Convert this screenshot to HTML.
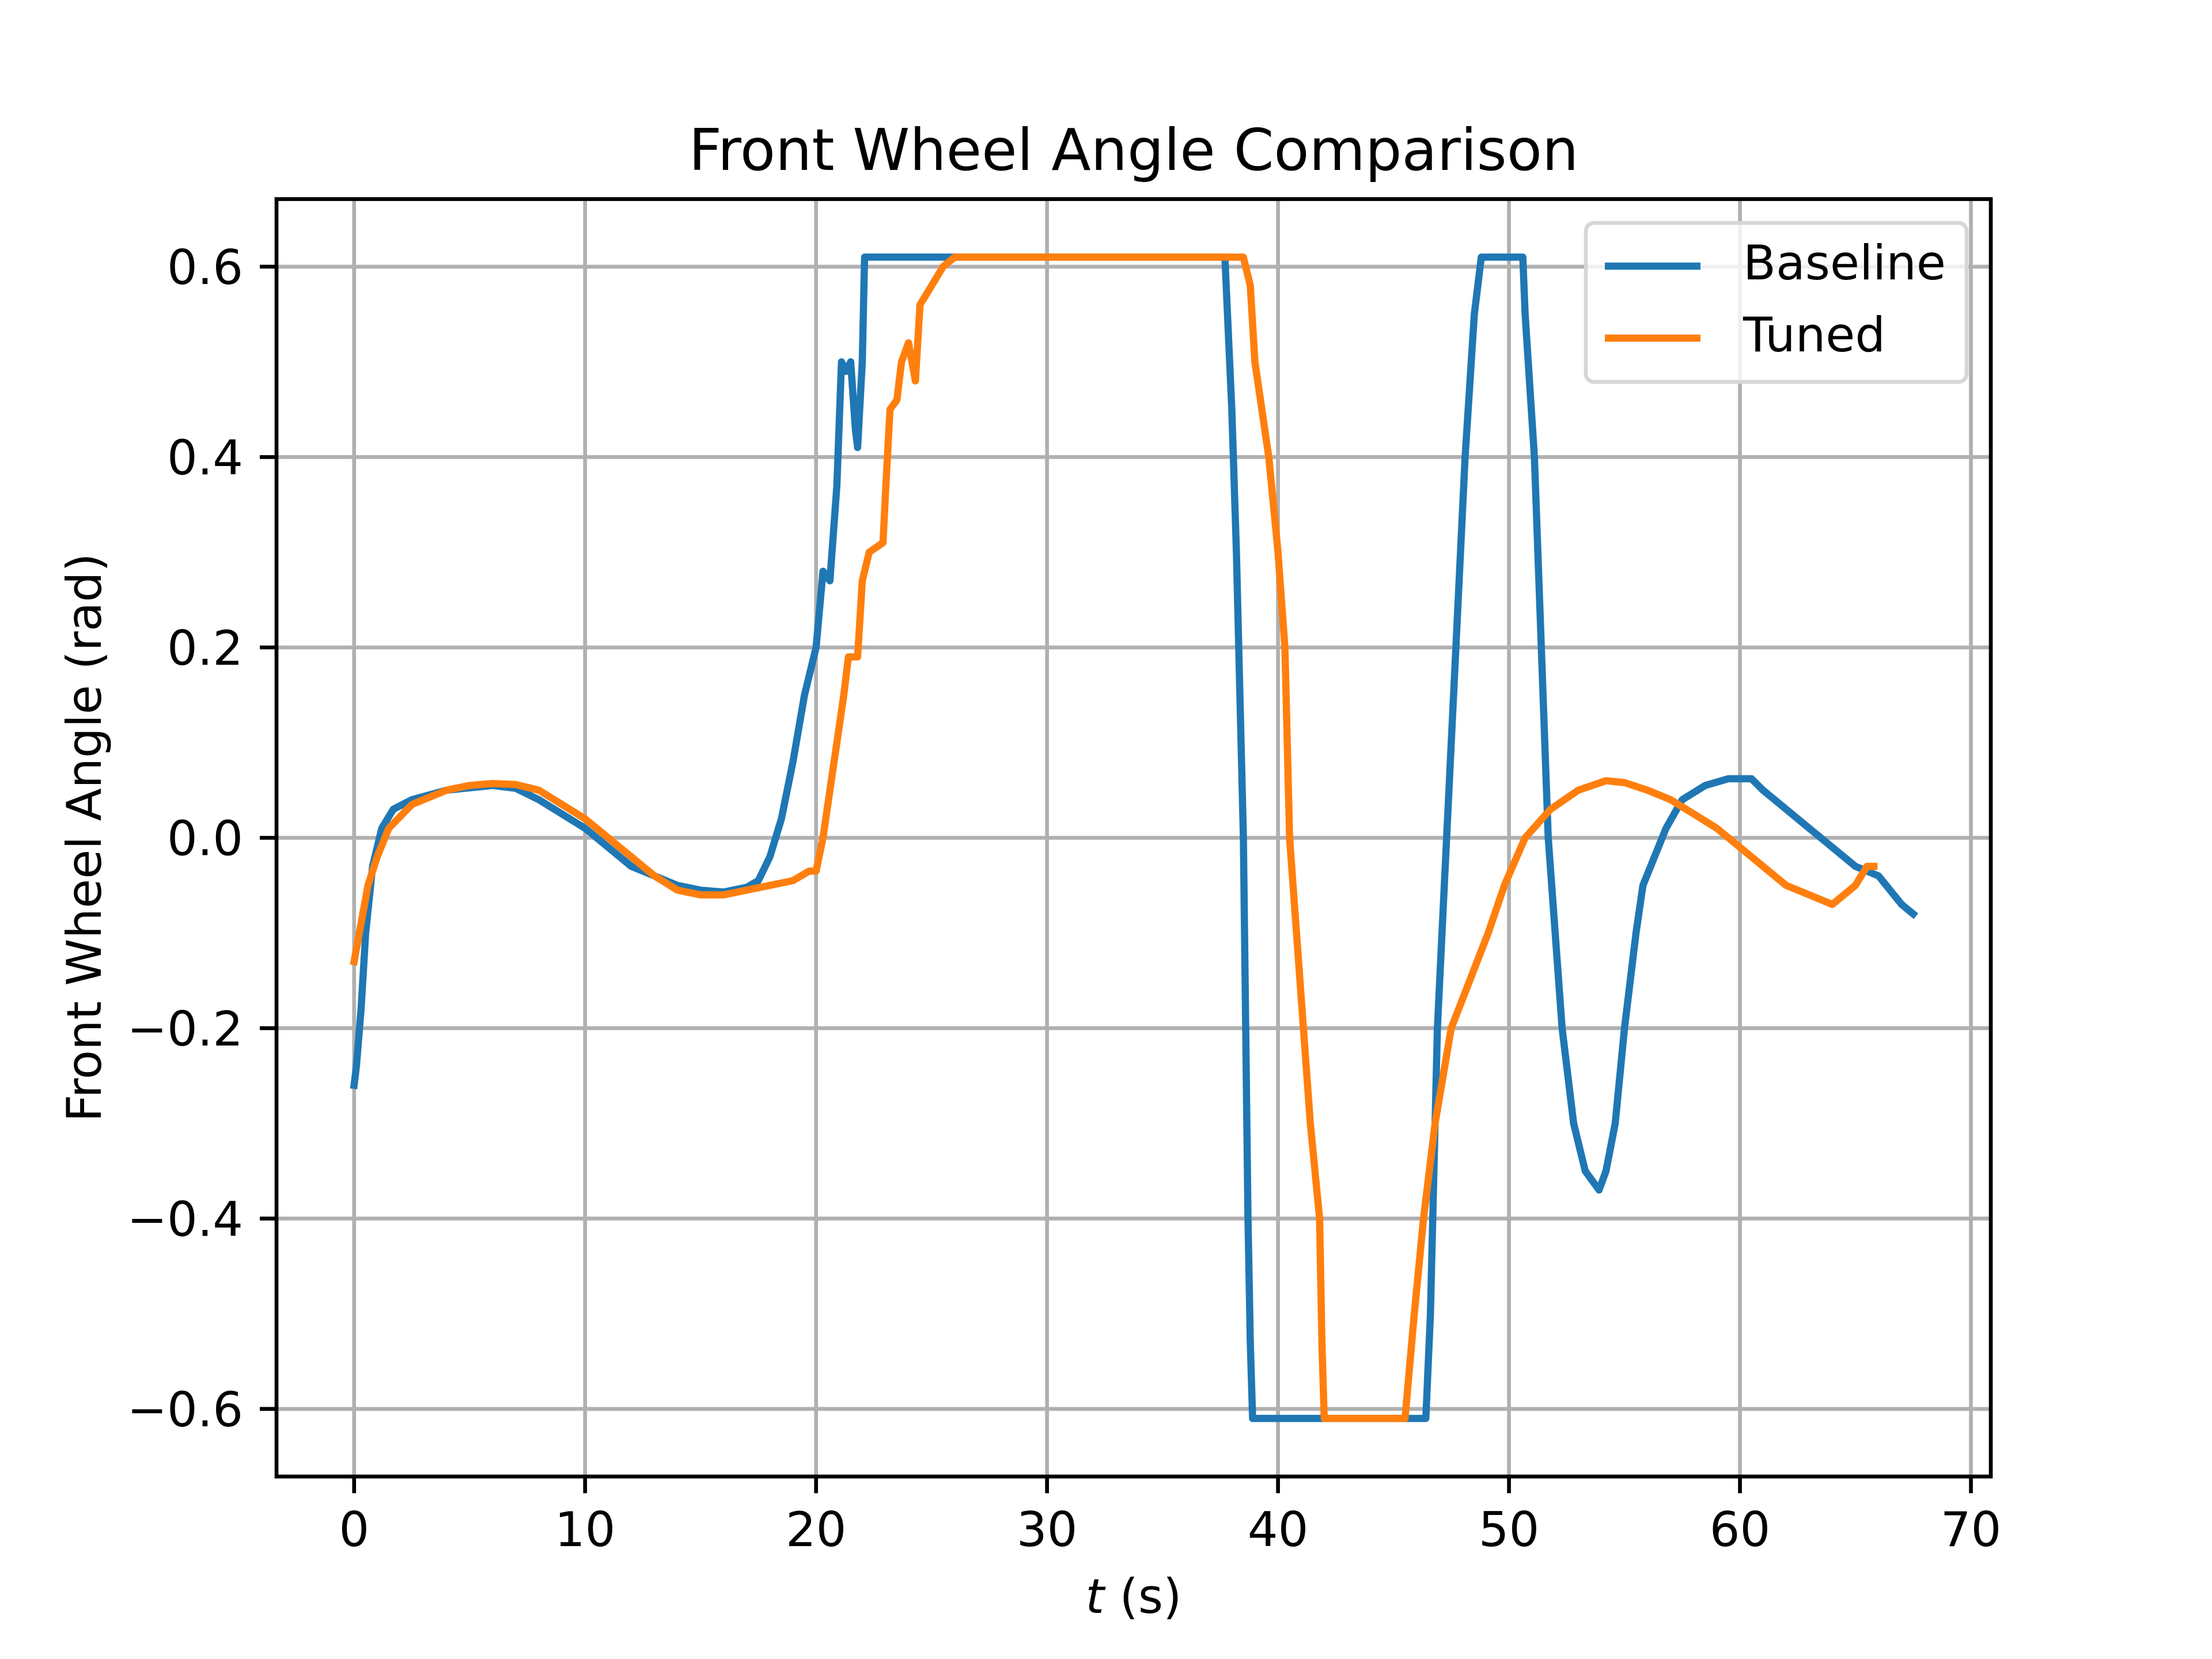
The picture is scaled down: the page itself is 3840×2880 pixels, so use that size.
<!DOCTYPE html>
<html><head><meta charset="utf-8"><style>html,body{margin:0;padding:0;background:#fff}svg{display:block}</style></head>
<body>
<svg id="chart" width="3840" height="2880" viewBox="0 0 3840 2880" xmlns="http://www.w3.org/2000/svg" font-family="'DejaVu Sans','Liberation Sans',sans-serif">
<rect width="3840" height="2880" fill="#fff"/>
<g id="grid"></g>
<g id="series"></g>
<rect x="480" y="345.6" width="2976" height="2217.6" fill="none" stroke="#000" stroke-width="6.67"/>
<g id="ticks"></g>
<text x="1968" y="295" font-size="100" text-anchor="middle">Front Wheel Angle Comparison</text>
<text x="1968" y="2800" font-size="83" text-anchor="middle"><tspan font-style="italic">t</tspan> (s)</text>
<text transform="translate(175,1454) rotate(-90)" font-size="83" text-anchor="middle">Front Wheel Angle (rad)</text>
<g>
<rect x="2753" y="387" width="661" height="276" rx="14" fill="#fff" fill-opacity="0.8" stroke="#d6d6d6" stroke-width="6.67"/>
<line x1="2786" y1="462" x2="2952" y2="462" stroke="#1f77b4" stroke-width="12.5"/>
<text x="3026" y="485" font-size="83">Baseline</text>
<line x1="2786" y1="587" x2="2952" y2="587" stroke="#ff7f0e" stroke-width="12.5"/>
<text x="3026" y="610" font-size="83">Tuned</text>
</g>
</svg>
<script>
const xTicks=[0,10,20,30,40,50,60,70];
const yTicks=[-0.6,-0.4,-0.2,0.0,0.2,0.4,0.6];
const yTickLabels=["\u22120.6","\u22120.4","\u22120.2","0.0","0.2","0.4","0.6"];
const baselineT=[0,0.1,0.3,0.5,0.8,1.2,1.7,2.5,4,6,7,8,9,10,11,12,13,14,15,16,17,17.5,18,18.5,19,19.5,20,20.3,20.6,20.9,21.1,21.3,21.5,21.7,21.8,22,22.1,37.7,38,38.2,38.5,38.6,38.7,38.8,38.9,46.4,46.6,46.9,47.3,47.7,48.1,48.5,48.8,50.6,50.7,51.1,51.4,51.7,52.3,52.8,53.3,53.9,54.2,54.6,55,55.5,55.8,56.3,56.8,57.5,58.5,59.5,60.5,61,62,63,64,65,66,67,67.5];
const baselineV=[-0.26,-0.24,-0.18,-0.1,-0.03,0.01,0.03,0.04,0.05,0.055,0.052,0.04,0.025,0.01,-0.01,-0.03,-0.04,-0.05,-0.055,-0.057,-0.052,-0.045,-0.02,0.02,0.08,0.15,0.2,0.28,0.27,0.37,0.5,0.49,0.5,0.43,0.41,0.5,0.61,0.61,0.45,0.3,0.0,-0.2,-0.4,-0.53,-0.61,-0.61,-0.5,-0.2,0.0,0.2,0.4,0.55,0.61,0.61,0.55,0.4,0.2,0.0,-0.2,-0.3,-0.35,-0.37,-0.35,-0.3,-0.2,-0.1,-0.05,-0.02,0.01,0.04,0.055,0.062,0.062,0.05,0.03,0.01,-0.01,-0.03,-0.04,-0.07,-0.08];
const tunedT=[0,0.3,0.6,1,1.5,2.5,4,5,6,7,8,9,10,11,12,13,14,15,16,17,18,19,19.7,20,20.3,20.6,20.9,21.2,21.4,21.8,22,22.3,22.9,23.0,23.2,23.5,23.7,24,24.3,24.5,25,25.5,26,38.5,38.8,39,39.6,40,40.3,40.5,41.1,41.4,41.8,41.9,42,45.5,45.9,46.3,46.8,47.5,48.3,49.1,49.8,50.7,51.8,53,54.2,55,56,57,58,59,60,61,62,63,64,65,65.5,65.8];
const tunedV=[-0.13,-0.09,-0.05,-0.02,0.01,0.035,0.05,0.055,0.057,0.056,0.05,0.035,0.02,0.0,-0.02,-0.04,-0.055,-0.06,-0.06,-0.055,-0.05,-0.045,-0.035,-0.035,0.0,0.05,0.1,0.15,0.19,0.19,0.27,0.3,0.31,0.36,0.45,0.46,0.5,0.52,0.48,0.56,0.58,0.6,0.61,0.61,0.58,0.5,0.4,0.3,0.2,0.0,-0.2,-0.3,-0.4,-0.53,-0.61,-0.61,-0.5,-0.4,-0.3,-0.2,-0.15,-0.1,-0.05,0.0,0.03,0.05,0.06,0.058,0.05,0.04,0.025,0.01,-0.01,-0.03,-0.05,-0.06,-0.07,-0.05,-0.03,-0.03];
const NS="http://www.w3.org/2000/svg";
const L=480,R=3456,T=345.6,B=2563.2;
const XMIN=-3.36,XMAX=70.86,YMIN=-0.671,YMAX=0.671;
function xs(t){return L+(t-XMIN)*(R-L)/(XMAX-XMIN);}
function ys(v){return B-(v-YMIN)*(B-T)/(YMAX-YMIN);}
const grid=document.getElementById('grid'),ticks=document.getElementById('ticks'),ser=document.getElementById('series');
function mk(tag,attrs,parent){const e=document.createElementNS(NS,tag);for(const k in attrs)e.setAttribute(k,attrs[k]);parent.appendChild(e);return e;}
xTicks.forEach(t=>{const x=xs(t);
 const g=mk('line',{x1:x,x2:x,y1:T,y2:B,stroke:'#b0b0b0','stroke-width':6.67},grid);
 
 
 mk('line',{x1:x,x2:x,y1:B,y2:B+29,stroke:'#000','stroke-width':6.67},ticks);
 const l=mk('text',{x:x,y:2684,'font-size':83,'text-anchor':'middle'},ticks);l.textContent=t;
 
 });
yTicks.forEach((v,i)=>{const y=ys(v);
 const g=mk('line',{x1:L,x2:R,y1:y,y2:y,stroke:'#b0b0b0','stroke-width':6.67},grid);
 
 
 mk('line',{x1:L-29,x2:L,y1:y,y2:y,stroke:'#000','stroke-width':6.67},ticks);
 const l=mk('text',{x:L-58,y:y+30,'font-size':83,'text-anchor':'end'},ticks);l.textContent=yTickLabels[i];
 
 });
function line(Ts,V,color,name){const pts=Ts.map((t,i)=>xs(t).toFixed(1)+','+ys(V[i]).toFixed(1)).join(' ');
 const p=mk('polyline',{points:pts,fill:'none',stroke:color,'stroke-width':12.5,'stroke-linejoin':'round','stroke-linecap':'square'},ser);
 
 }
line(baselineT,baselineV,'#1f77b4','baseline-line');
line(tunedT,tunedV,'#ff7f0e','tuned-line');
</script>
</body></html>
